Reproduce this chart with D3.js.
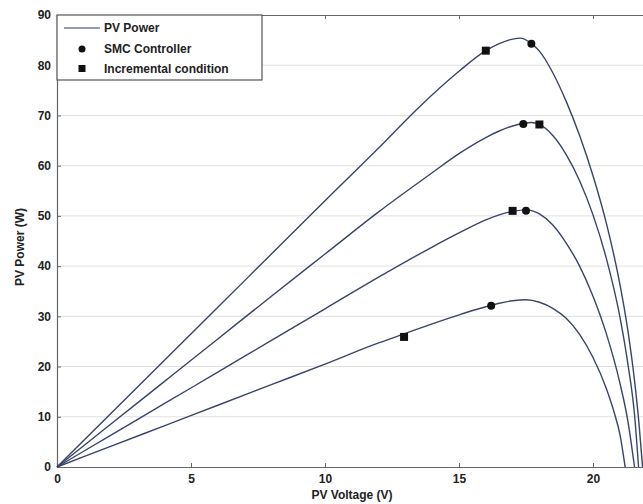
<!DOCTYPE html>
<html>
<head>
<meta charset="utf-8">
<script src="https://cdn.jsdelivr.net/npm/d3@7"></script>
<style>
  body { margin: 0; background: #fff; }
  text { font-family: Arial, "Liberation Sans", sans-serif; }
</style>
</head>
<body>
<div id="chart"></div>
<script>
// PV curves (voltage V, power W)
var curve1V = [0, 2, 4, 6, 8, 10, 12, 13.5, 15, 16, 16.5, 17, 17.3, 17.7, 18, 18.5, 19, 19.5, 20, 20.5, 21, 21.3, 21.55, 21.72, 21.85];
var curve1P = [0, 10.6, 21.2, 31.8, 42.4, 53.0, 63.5, 71.6, 78.8, 82.9, 84.3, 85.2, 85.4, 84.3, 82.8, 78.5, 72.8, 66.0, 58.0, 48.5, 36.5, 27.2, 17.2, 8.4, 0];

var curve2V = [0, 2, 4, 6, 8, 10, 12, 14, 15, 16, 16.5, 17, 17.4, 17.7, 18, 18.5, 19, 19.5, 20, 20.5, 21, 21.3, 21.55, 21.7];
var curve2P = [0, 8.5, 17.0, 25.5, 34.0, 42.4, 50.8, 58.6, 62.4, 65.6, 66.9, 67.9, 68.4, 68.6, 68.2, 66.0, 62.2, 57.0, 50.2, 41.5, 30.0, 20.6, 10.4, 0];

var curve3V = [0, 2, 4, 6, 8, 10, 12, 14, 15, 16, 16.5, 17, 17.5, 18, 18.5, 19, 19.5, 20, 20.5, 21, 21.3, 21.55];
var curve3P = [0, 6.3, 12.6, 18.9, 25.2, 31.5, 37.8, 43.8, 46.6, 49.2, 50.2, 50.9, 51.2, 50.4, 48.2, 44.6, 40.0, 34.0, 26.5, 16.8, 9.2, 0];

var curve4V = [0, 2, 4, 6, 8, 10, 12, 13, 14, 15, 16, 16.5, 17, 17.5, 18, 18.5, 19, 19.5, 20, 20.5, 20.8, 21, 21.2];
var curve4P = [0, 4.1, 8.2, 12.3, 16.4, 20.5, 24.7, 26.6, 28.5, 30.3, 31.9, 32.6, 33.1, 33.3, 32.8, 31.6, 29.6, 26.4, 21.8, 15.6, 10.7, 6.6, 0];

// operating points found by each tracker
var smcV = [17.7, 17.4, 17.5, 16.2];
var smcP = [84.3, 68.3, 51.0, 32.1];
var incV = [16.0, 18.0, 17.0, 12.95];
var incP = [82.9, 68.2, 51.0, 25.9];

var xTicks = [0, 5, 10, 15, 20];
var yTicks = [0, 10, 20, 30, 40, 50, 60, 70, 80, 90];

var svgW = 643, svgH = 504;
var plotLeft = 57, plotTop = 15, plotBottom = 467;
var lineColor = "#3a4468";

var svg = d3.select("#chart").append("svg")
    .attr("width", svgW)
    .attr("height", svgH);

var x = d3.scaleLinear().domain([0, 22]).range([plotLeft, plotLeft + 26.8 * 22]);
var y = d3.scaleLinear().domain([0, 90]).range([plotBottom, plotTop]);

// grid lines
svg.append("g").selectAll("line")
    .data(yTicks.slice(1, -1))
    .join("line")
    .attr("x1", plotLeft).attr("x2", svgW)
    .attr("y1", d => y(d)).attr("y2", d => y(d))
    .attr("stroke", "#e0e0e0")
    .attr("stroke-width", 1);

// axes
var xAxis = d3.axisBottom(x).tickValues(xTicks).tickSize(-4).tickPadding(7);
var gx = svg.append("g").attr("transform", "translate(0," + plotBottom + ")").call(xAxis);
var xTop = d3.axisTop(x).tickValues(xTicks).tickSize(-4).tickFormat("");
var gxt = svg.append("g").attr("transform", "translate(0," + plotTop + ")").call(xTop);
var yAxis = d3.axisLeft(y).tickValues(yTicks).tickSize(-4).tickPadding(6);
var gy = svg.append("g").attr("transform", "translate(" + plotLeft + ",0)").call(yAxis);

[gx, gxt, gy].forEach(function (g) {
    g.select(".domain").attr("stroke", "#666").attr("stroke-width", 1.2);
    g.selectAll(".tick line").attr("stroke", "#666");
    g.selectAll(".tick text")
        .attr("fill", "#222")
        .style("font-size", "12px")
        .style("font-weight", "bold");
});

// curves
var curves = [[curve1V, curve1P], [curve2V, curve2P], [curve3V, curve3P], [curve4V, curve4P]];
var line = d3.line()
    .x(d => x(d[0]))
    .y(d => y(d[1]))
    .curve(d3.curveMonotoneX);

svg.append("g").selectAll("path")
    .data(curves.map(c => c[0].map((v, i) => [v, c[1][i]])))
    .join("path")
    .attr("d", line)
    .attr("fill", "none")
    .attr("stroke", lineColor)
    .attr("stroke-width", 1.4);

// markers
svg.append("g").selectAll("circle")
    .data(smcV.map((v, i) => [v, smcP[i]]))
    .join("circle")
    .attr("cx", d => x(d[0]))
    .attr("cy", d => y(d[1]))
    .attr("r", 4)
    .attr("fill", "#111");

svg.append("g").selectAll("rect")
    .data(incV.map((v, i) => [v, incP[i]]))
    .join("rect")
    .attr("x", d => x(d[0]) - 4)
    .attr("y", d => y(d[1]) - 4)
    .attr("width", 8)
    .attr("height", 8)
    .attr("fill", "#111");

// legend
var legend = svg.append("g").attr("transform", "translate(" + plotLeft + "," + plotTop + ")");
legend.append("rect")
    .attr("width", 205).attr("height", 65)
    .attr("fill", "#fff")
    .attr("stroke", "#555")
    .attr("stroke-width", 1.2);
legend.append("line")
    .attr("x1", 7).attr("x2", 43).attr("y1", 13).attr("y2", 13)
    .attr("stroke", "#6b7896").attr("stroke-width", 1.5);
legend.append("circle").attr("cx", 25).attr("cy", 34).attr("r", 3.5).attr("fill", "#111");
legend.append("rect").attr("x", 21.5).attr("y", 50).attr("width", 7).attr("height", 7).attr("fill", "#111");
var labels = ["PV Power", "SMC Controller", "Incremental condition"];
legend.selectAll("text.lab")
    .data(labels)
    .join("text")
    .attr("class", "lab")
    .attr("x", 47)
    .attr("y", (d, i) => 17 + i * 20.5)
    .attr("fill", "#222")
    .style("font-size", "12px")
    .style("font-weight", "bold")
    .text(d => d);

// axis titles
svg.append("text")
    .attr("x", 352).attr("y", 499)
    .attr("text-anchor", "middle")
    .attr("fill", "#222")
    .style("font-size", "12px")
    .style("font-weight", "bold")
    .text("PV Voltage (V)");
svg.append("text")
    .attr("transform", "translate(24,247) rotate(-90)")
    .attr("text-anchor", "middle")
    .attr("fill", "#222")
    .style("font-size", "12px")
    .style("font-weight", "bold")
    .text("PV Power (W)");
</script>
</body>
</html>
